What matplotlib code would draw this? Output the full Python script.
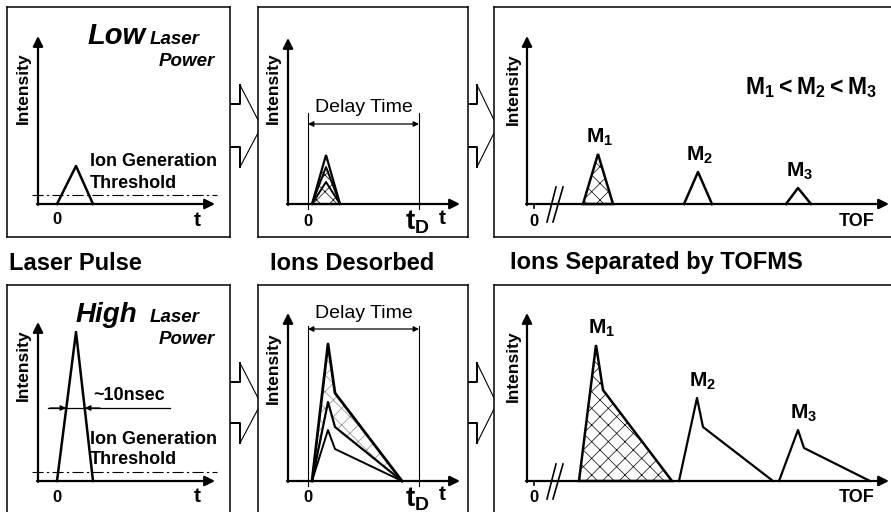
import numpy as np
import matplotlib
matplotlib.use('Agg')
import matplotlib.pyplot as plt

plt.rcParams['font.family'] = ['Liberation Sans', 'DejaVu Sans']
plt.rcParams['mathtext.fontset'] = 'custom'
plt.rcParams['mathtext.rm'] = 'Liberation Sans:bold'
plt.rcParams['mathtext.bf'] = 'Liberation Sans:bold'
plt.rcParams['hatch.color'] = '0.55'
plt.rcParams['hatch.linewidth'] = 0.5

W, H = 891, 512

# ---- data (time, intensity) in panel units ----
# laser pulse, low / high power
pulse_t = [19, 38, 55]
pulse_low = [0, 38, 0]
pulse_high = [0, 149, 0]
threshold = 9

# ions desorbed, low power: several small pulses
des_low_t = [24, 38, 52]
des_low_heights = [49, 37, 22]

# ions desorbed, high power: pulse + long tail
des_high_t = [24, 40, 47, 114]
des_high_outer = [0, 137, 88, 0]
des_high_mid = [0, 79, 54, 0]
des_high_inner = [0, 51, 32, 0]

delay_start, delay_end = 20, 131

# TOF spectra
mass_labels = [r'$\mathbf{M}_{\mathbf{1}}$', r'$\mathbf{M}_{\mathbf{2}}$',
               r'$\mathbf{M}_{\mathbf{3}}$']
tof_low_t = [[56, 71, 86], [157, 171, 185], [259, 271, 284]]
tof_low_I = [[0, 50, 0], [0, 32, 0], [0, 16, 0]]
tof_high_t = [[52, 69, 76, 145], [152, 170, 176, 246], [252, 271, 277, 343]]
tof_high_I = [[0, 136, 91, 0], [0, 83, 54, 0], [0, 51, 33, 0]]

titles = ['Laser Pulse', 'Ions Desorbed', 'Ions Separated by TOFMS']

fig = plt.figure(figsize=(W / 100, H / 100), dpi=100)

# overlay in pixel coords for block arrows and row titles
ov = fig.add_axes([0, 0, 1, 1])
ov.set_xlim(0, W)
ov.set_ylim(H, 0)
ov.axis('off')


def make_panel(x0, y0, x1, y1, ox, oy):
    ax = fig.add_axes([x0 / W, 1 - y1 / H, (x1 - x0) / W, (y1 - y0) / H])
    ax.set_xlim(x0 - ox, x1 - ox)
    ax.set_ylim(oy - y1, oy - y0)
    ax.set_xticks([])
    ax.set_yticks([])
    for s in ax.spines.values():
        s.set_linewidth(1.1)
    ax.set_zorder(2)
    return ax


def axis_arrows(ax, xend, yend, ylab_x, ylab_y):
    ap = dict(arrowstyle='-|>', lw=1.6, color='black', mutation_scale=15,
              shrinkA=0, shrinkB=0)
    ax.annotate('', xy=(xend, 0), xytext=(-1, 0), arrowprops=ap)
    ax.annotate('', xy=(0, yend), xytext=(0, -1), arrowprops=ap)
    ax.text(ylab_x, ylab_y, 'Intensity', rotation=90, ha='center', va='center',
            fontsize=12.5, fontweight='bold')


def block_arrow(xa, xb, xt, yt, yb):
    # hollow arrow between panels, tip cut by the next box
    ov.plot([xa, xb, xb], [yt, yt, yt - 19], color='black', lw=1.4)
    ov.plot([xb, xt], [yt - 19, yt + 16], color='black', lw=0.8)
    ov.plot([xa, xb, xb], [yb, yb, yb + 20], color='black', lw=1.4)
    ov.plot([xb, xt], [yb + 20, yb - 14], color='black', lw=0.8)


for yt, yb in [(104, 147), (382, 423)]:
    block_arrow(230, 240, 258, yt, yb)
    block_arrow(468, 477, 494, yt, yb)

for x, t in zip([9, 270, 510], titles):
    ov.text(x, 263, t, fontsize=17, fontweight='bold', ha='left', va='center')


def laser_panel(ax, I, power, psize, yw, wx, yl):
    axis_arrows(ax, 177, yl, -15, 116)
    ax.plot([-6, 179], [threshold, threshold], color='black', lw=0.8,
            dashes=(10, 3, 2, 3))
    ax.plot(pulse_t, I, color='black', lw=1.8)
    ax.text(19, -16, '0', fontsize=12, fontweight='bold', ha='center', va='center')
    ax.text(159, -16, 't', fontsize=15, fontweight='bold', ha='center', va='center')
    ax.text(52, 42, 'Ion Generation', fontsize=13, fontweight='bold', va='center')
    ax.text(52, 21, 'Threshold', fontsize=13, fontweight='bold', va='center')
    ax.text(wx, yw, power, fontsize=psize, fontweight='bold', style='italic',
            ha='right', va='baseline')
    ax.text(112, yw, 'Laser', fontsize=13.5, fontweight='bold', style='italic',
            ha='left', va='baseline')
    ax.text(177, yw - 22, 'Power', fontsize=13.5, fontweight='bold', style='italic',
            ha='right', va='baseline')


def delay_marks(ax, ytop, yarr, ytxt):
    for x in (delay_start, delay_end):
        ax.plot([x, x], [-5, ytop], color='black', lw=0.8)
    ax.annotate('', xy=(delay_start, yarr), xytext=(delay_end, yarr),
                arrowprops=dict(arrowstyle='<|-|>', lw=0.9, color='black',
                                mutation_scale=8, shrinkA=0, shrinkB=0))
    ax.text((delay_start + delay_end) / 2, ytxt, 'Delay Time', fontsize=14,
            ha='center', va='center')
    ax.text(20, -17, '0', fontsize=12, fontweight='bold', ha='center', va='center')
    ax.text(129, -18, r'$\mathbf{t}_{\mathbf{D}}$', fontsize=20, ha='center', va='center')
    ax.text(154, -14, 't', fontsize=15, fontweight='bold', ha='center', va='center')


def tof_axis(ax):
    axis_arrows(ax, 362, 168, -14, 115)
    ax.plot([7, 7], [-4, 0], color='black', lw=1.2)
    ax.text(7, -17, '0', fontsize=12, fontweight='bold', ha='center', va='center')
    ax.text(330, -17, 'TOF', fontsize=13, fontweight='bold', ha='center', va='center')
    ax.plot([20, 29], [-18, 17], color='black', lw=1.2)
    ax.plot([26, 36], [-18, 17], color='black', lw=1.2)


# ---- top row: low laser power ----
a1 = make_panel(7, 7, 230, 237, 38, 204)
laser_panel(a1, pulse_low, 'Low', 21, 160, 108, 168)

a2 = make_panel(258, 7, 468, 237, 288, 204)
axis_arrows(a2, 172, 166, -15, 116)
delay_marks(a2, 91, 80, 96)
a2.fill(des_low_t, [0, des_low_heights[0], 0], facecolor='white', hatch='xx',
        edgecolor='black', lw=1.6)
for h in des_low_heights[1:]:
    a2.plot(des_low_t, [0, h, 0], color='black', lw=1.4)

a3 = make_panel(494, 7, 893, 237, 527, 204)
tof_axis(a3)
for i, (t, I) in enumerate(zip(tof_low_t, tof_low_I)):
    if i == 0:
        a3.fill(t, I, facecolor='white', hatch='xx', edgecolor='black', lw=1.8)
    else:
        a3.plot(t, I, color='black', lw=1.8)
    a3.text(t[1] + 2, I[1] + 17, mass_labels[i], fontsize=15, ha='center', va='center')
a3.text(284, 116, r'$\mathbf{M}_{\mathbf{1}}\mathbf{<M}_{\mathbf{2}}\mathbf{<M}_{\mathbf{3}}$',
        fontsize=16.5, ha='center', va='center')

# ---- bottom row: high laser power ----
a4 = make_panel(7, 285, 230, 520, 38, 481)
laser_panel(a4, pulse_high, 'High', 20, 159, 99, 159)
a4.plot([10, 132], [73, 73], color='black', lw=0.9)
a4.annotate('', xy=(28, 73), xytext=(12, 73),
            arrowprops=dict(arrowstyle='-|>', lw=0.9, color='black',
                            mutation_scale=8, shrinkA=0, shrinkB=0))
a4.annotate('', xy=(47, 73), xytext=(62, 73),
            arrowprops=dict(arrowstyle='-|>', lw=0.9, color='black',
                            mutation_scale=8, shrinkA=0, shrinkB=0))
a4.text(55, 85, '~10nsec', fontsize=13, fontweight='bold', va='center')

a5 = make_panel(258, 285, 468, 520, 288, 481)
axis_arrows(a5, 172, 168, -15, 113)
delay_marks(a5, 155, 152, 168)
a5.fill_between(des_high_t, des_high_mid, des_high_outer, facecolor='white',
                hatch='xx', edgecolor='none')
a5.plot(des_high_t, des_high_outer, color='black', lw=2.0)
a5.plot(des_high_t, des_high_mid, color='black', lw=1.6)
a5.plot(des_high_t, des_high_inner, color='black', lw=1.4)

a6 = make_panel(494, 285, 893, 520, 527, 481)
tof_axis(a6)
for i, (t, I) in enumerate(zip(tof_high_t, tof_high_I)):
    if i == 0:
        a6.fill(t, I, facecolor='white', hatch='xx', edgecolor='black', lw=1.8)
    else:
        a6.plot(t, I, color='black', lw=1.6)
    a6.text(t[1] + 6, I[1] + 17, mass_labels[i], fontsize=15, ha='center', va='center')

fig.savefig('out.png', dpi=100)
